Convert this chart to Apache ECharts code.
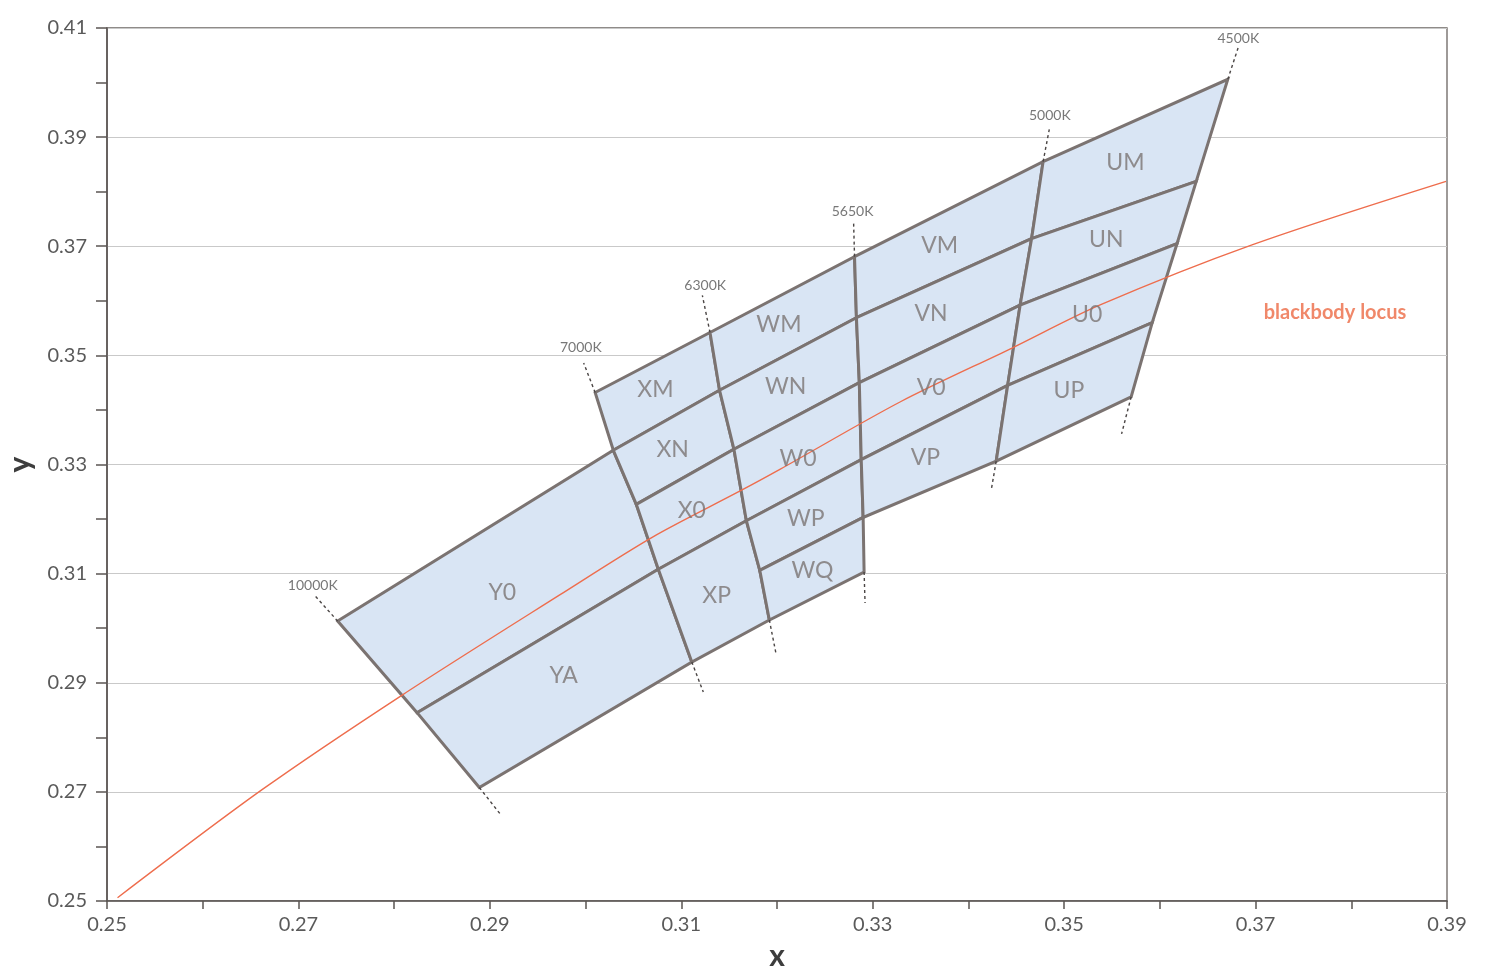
<!DOCTYPE html>
<html>
<head>
<meta charset="utf-8">
<script src="https://cdn.jsdelivr.net/npm/echarts@6/dist/echarts.min.js"></script>
<style>
html,body{margin:0;padding:0;background:#fff;}
#chart{width:1500px;height:974px;}
</style>
</head>
<body>
<div id="chart"></div>
<script>
// ---- Data (CIE x, y) ----
// Isotherm nodes at row lines [A(top), B, C, D, E, F(bottom)]
const isoNames = ['10000K', '7000K', '6300K', '5650K', '5000K', '4500K'];
const k10000 = [null, [0.2741, 0.3013], null, [0.2824, 0.2845], null, [0.2889, 0.2708]];
const k7000  = [[0.3010, 0.3432], [0.3029, 0.3326], [0.3053, 0.3227], [0.3076, 0.3108], null, [0.3111, 0.2938]];
const k6300  = [[0.3130, 0.3542], [0.3140, 0.3436], [0.3155, 0.3328], [0.3168, 0.3197], [0.3182, 0.3106], [0.3192, 0.3015]];
const k5650  = [[0.3281, 0.3681], [0.3283, 0.3569], [0.3286, 0.3450], [0.3288, 0.3309], [0.3290, 0.3203], [0.3291, 0.3103]];
const k5000  = [[0.3478, 0.3855], [0.3466, 0.3714], [0.3454, 0.3592], [0.3441, 0.3445], [0.3429, 0.3306], null];
const k4500  = [[0.3671, 0.4006], [0.3638, 0.3819], [0.3618, 0.3705], [0.3592, 0.3560], [0.3570, 0.3424], null];

// Dashed extensions of isotherms (outer end points) and label positions
const isoTopExt    = [[0.2716, 0.3062], [0.2998, 0.3486], [0.3122, 0.3610], [0.3280, 0.3746], [0.3485, 0.3919], [0.3682, 0.4065]];
const isoBottomExt = [[0.2911, 0.2659], [0.3123, 0.2883], [0.3199, 0.2953], [0.3292, 0.3046], [0.3424, 0.3255], [0.3560, 0.3356]];
const isoLabelPos  = [[0.2715, 0.3078], [0.2995, 0.3515], [0.3125, 0.3629], [0.3279, 0.3763], [0.3485, 0.3939], [0.3682, 0.4081]];

// Bins: name, corners as [isotherm index, row index], label position
const binNames = ['Y0', 'YA', 'XM', 'XN', 'X0', 'XP', 'WM', 'WN', 'W0', 'WP', 'WQ', 'VM', 'VN', 'V0', 'VP', 'UM', 'UN', 'U0', 'UP'];
const binCorners = [
  [[0,1],[1,1],[1,2],[1,3],[0,3]],
  [[0,3],[1,3],[1,5],[0,5]],
  [[1,0],[2,0],[2,1],[1,1]],
  [[1,1],[2,1],[2,2],[1,2]],
  [[1,2],[2,2],[2,3],[1,3]],
  [[1,3],[2,3],[2,4],[2,5],[1,5]],
  [[2,0],[3,0],[3,1],[2,1]],
  [[2,1],[3,1],[3,2],[2,2]],
  [[2,2],[3,2],[3,3],[2,3]],
  [[2,3],[3,3],[3,4],[2,4]],
  [[2,4],[3,4],[3,5],[2,5]],
  [[3,0],[4,0],[4,1],[3,1]],
  [[3,1],[4,1],[4,2],[3,2]],
  [[3,2],[4,2],[4,3],[3,3]],
  [[3,3],[4,3],[4,4],[3,4]],
  [[4,0],[5,0],[5,1],[4,1]],
  [[4,1],[5,1],[5,2],[4,2]],
  [[4,2],[5,2],[5,3],[4,3]],
  [[4,3],[5,3],[5,4],[4,4]]
];
const binLabelX = [0.2913, 0.2977, 0.3073, 0.3091, 0.3111, 0.3137, 0.3202, 0.3209, 0.3222, 0.3230, 0.3237, 0.3370, 0.3361, 0.3361, 0.3355, 0.3564, 0.3544, 0.3524, 0.3505];
const binLabelY = [0.3066, 0.2913, 0.3437, 0.3328, 0.3216, 0.3059, 0.3557, 0.3443, 0.3311, 0.3200, 0.3105, 0.3701, 0.3577, 0.3441, 0.3313, 0.3853, 0.3712, 0.3575, 0.3436];

// Blackbody locus
const locusX = [0.2511, 0.2662, 0.2808, 0.2973, 0.3070, 0.3161, 0.3203, 0.3329, 0.3445, 0.3537, 0.3697, 0.3899];
const locusY = [0.2506, 0.2704, 0.2877, 0.3061, 0.3167, 0.3251, 0.3291, 0.3415, 0.3513, 0.3592, 0.3703, 0.3819];
const locusLabel = 'blackbody locus';
const locusLabelPos = [0.3783, 0.3578];

// ---- Build ----
const isoNodes = [k10000, k7000, k6300, k5650, k5000, k4500];
const binPolys = binCorners.map(c => c.map(([i, r]) => isoNodes[i][r]));
const firstNode = arr => arr.find(p => p);
const lastNode = arr => arr.slice().reverse().find(p => p);
const extSegments = [];
isoNodes.forEach((nodes, i) => {
  extSegments.push([firstNode(nodes), isoTopExt[i]]);
  extSegments.push([lastNode(nodes), isoBottomExt[i]]);
});

const FONT = 'Lato, "Open Sans", sans-serif';
const chart = echarts.init(document.getElementById('chart'), null, { renderer: 'canvas' });
const oddHundredth = v => Math.round(v * 100) % 2 === 1;

chart.setOption({
  backgroundColor: '#fff',
  animation: false,
  grid: { left: 107, right: 53, top: 28, bottom: 73, containLabel: false, outerBoundsMode: 'none',
    show: true, borderColor: '#6b6562', borderWidth: 1.3, backgroundColor: 'transparent' },
  xAxis: {
    type: 'value', min: 0.25, max: 0.39, interval: 0.01,
    name: 'x', nameLocation: 'middle', nameGap: 40,
    nameTextStyle: { fontSize: 30, fontWeight: 'bold', color: '#3d3d3d', fontFamily: FONT },
    axisLine: { show: true, lineStyle: { color: '#5b5553', width: 1.6 } },
    axisTick: { show: true, inside: false, length: 8, lineStyle: { color: '#5b5553', width: 1.5 } },
    axisLabel: { show: true, margin: 14, fontSize: 20, color: '#5a5a5a', fontFamily: FONT,
      showMinLabel: true, showMaxLabel: true,
      formatter: v => oddHundredth(v) ? v.toFixed(2) : '' },
    splitLine: { show: false }
  },
  yAxis: {
    type: 'value', min: 0.25, max: 0.41, interval: 0.01,
    name: 'y', nameLocation: 'middle', nameGap: 72, nameRotate: 90,
    nameTextStyle: { fontSize: 30, fontWeight: 'bold', color: '#3d3d3d', fontFamily: FONT },
    axisLine: { show: true, lineStyle: { color: '#5b5553', width: 1.6 } },
    axisTick: { show: true, inside: false, length: 11, lineStyle: { color: '#5b5553', width: 1.5 } },
    axisLabel: { show: true, margin: 20, fontSize: 20, color: '#5a5a5a', fontFamily: FONT,
      showMinLabel: true, showMaxLabel: true, padding: [0, 0, 8, 0],
      formatter: v => oddHundredth(v) ? v.toFixed(2) : '' },
    splitLine: { show: true, lineStyle: { color: ['#c9c9c9', 'rgba(0,0,0,0)'], width: 1.2 } }
  },
  series: [
    {
      name: 'bins', type: 'custom', coordinateSystem: 'cartesian2d', z: 3, clip: false,
      data: binNames.map((n, i) => [binLabelX[i], binLabelY[i], i]),
      renderItem: (params, api) => {
        const idx = api.value(2);
        const pts = binPolys[idx].map(p => api.coord(p));
        return { type: 'polygon', shape: { points: pts },
          style: { fill: '#d9e5f4', stroke: '#7b7371', lineWidth: 3, lineJoin: 'miter' } };
      }
    },
    {
      name: 'extensions', type: 'custom', coordinateSystem: 'cartesian2d', z: 3, clip: false,
      data: extSegments.map((s, i) => [s[1][0], s[1][1], i]),
      renderItem: (params, api) => {
        const s = extSegments[api.value(2)];
        const a = api.coord(s[0]), b = api.coord(s[1]);
        return { type: 'line', shape: { x1: a[0], y1: a[1], x2: b[0], y2: b[1] },
          style: { stroke: '#4a4544', lineWidth: 1.4, lineDash: [3, 3] } };
      }
    },
    {
      name: 'locus', type: 'line', z: 5, smooth: 0.3, showSymbol: false, symbol: 'none',
      data: locusX.map((x, i) => [x, locusY[i]]),
      lineStyle: { color: '#ee6d4d', width: 1.4 }
    },
    {
      name: 'binLabels', type: 'scatter', z: 6, symbolSize: 0,
      data: binNames.map((n, i) => ({ name: n, value: [binLabelX[i], binLabelY[i]] })),
      label: { show: true, position: 'inside', formatter: '{b}', fontSize: 23, color: '#7a7473', fontFamily: FONT }
    },
    {
      name: 'isoLabels', type: 'scatter', z: 6, symbolSize: 0,
      data: isoNames.map((n, i) => ({ name: n, value: isoLabelPos[i] })),
      label: { show: true, position: 'inside', formatter: '{b}', fontSize: 14, color: '#555', fontFamily: FONT }
    },
    {
      name: 'locusLabel', type: 'scatter', z: 6, symbolSize: 0,
      data: [{ name: locusLabel, value: locusLabelPos }],
      label: { show: true, position: 'inside', formatter: '{b}', fontSize: 20, fontWeight: 'bold', color: '#ec6a45', fontFamily: FONT }
    }
  ]
});
</script>
</body>
</html>
